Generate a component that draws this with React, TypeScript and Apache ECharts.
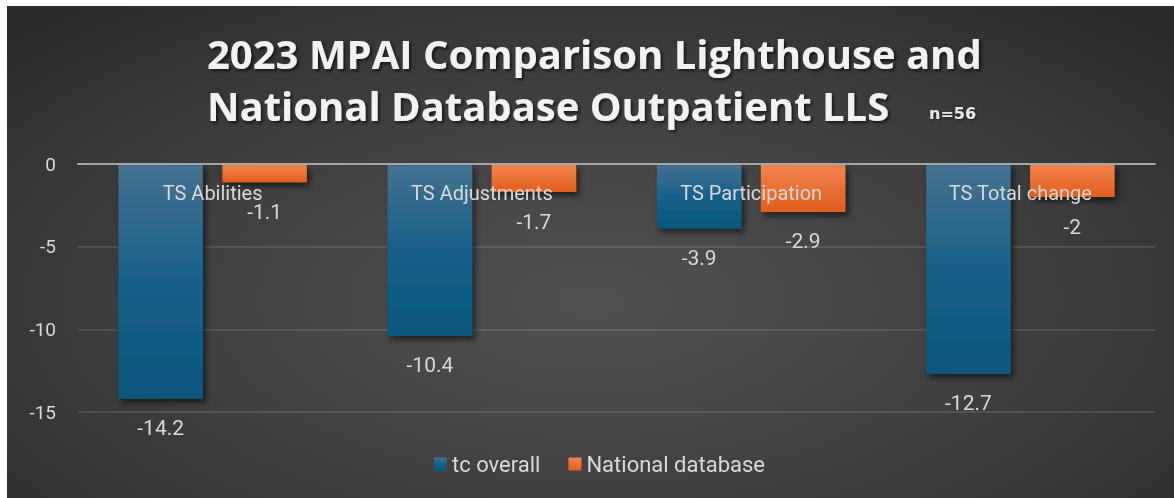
import React, { useEffect, useRef } from "react";
import * as echarts from "echarts";

const categories = ["TS Abilities", "TS Adjustments", "TS Participation", "TS Total change"];
const tcOverall = [-14.2, -10.4, -3.9, -12.7];
const nationalDb = [-1.1, -1.7, -2.9, -2];
const seriesNames = ["tc overall", "National database"];
const titleLines = ["2023 MPAI Comparison Lighthouse and", "National Database Outpatient LLS"];
const sampleNote = "n=56";

const FONT = "Roboto";

export default function App() {
  const ref = useRef<HTMLDivElement>(null);
  useEffect(() => {
    if (!ref.current) return;
    const chart = echarts.init(ref.current, undefined, { renderer: "svg" });
    const blue = new echarts.graphic.LinearGradient(0, 0, 0, 1, [
      { offset: 0, color: "#46718f" },
      { offset: 0.5, color: "#17618a" },
      { offset: 1, color: "#0a577d" },
    ]);
    const orange = new echarts.graphic.LinearGradient(0, 0, 0, 1, [
      { offset: 0, color: "#f0844f" },
      { offset: 1, color: "#e35d1c" },
    ]);
    const labelStyle = {
      show: true,
      position: "outside",
      distance: 19,
      color: "#d9d9d9",
      fontSize: 21,
      fontFamily: FONT,
    };
    const shadow = {
      shadowColor: "rgba(0,0,0,0.55)",
      shadowBlur: 6,
      shadowOffsetX: 3,
      shadowOffsetY: 4,
    };
    chart.setOption({
      animation: false,
      backgroundColor: "transparent",
      title: {
        text: titleLines.join("\n"),
        left: 200,
        top: 21,
        padding: 0,
        textStyle: {
          fontFamily: "Open Sans",
          fontWeight: "bold",
          fontSize: 40,
          lineHeight: 52,
          color: "#f2f2f2",
          textShadowColor: "rgba(0,0,0,0.6)",
          textShadowBlur: 3,
          textShadowOffsetX: 2,
          textShadowOffsetY: 2,
        },
      },
      graphic: [
        {
          type: "text",
          left: 922,
          top: 99,
          style: {
            text: sampleNote,
            fill: "#e6e6e6",
            font: "bold 16px 'DejaVu Sans'",
            textShadowColor: "rgba(0,0,0,0.6)",
            textShadowBlur: 2,
            textShadowOffsetX: 1,
            textShadowOffsetY: 1,
          },
        },
      ],
      legend: {
        data: seriesNames,
        left: 422,
        top: 442,
        icon: "rect",
        itemWidth: 13,
        itemHeight: 13,
        itemGap: 28,
        textStyle: { color: "#d9d9d9", fontSize: 22, fontFamily: FONT },
      },
      grid: { left: 71, right: 19, top: 158, bottom: 86 },
      xAxis: {
        type: "category",
        data: categories,
        position: "top",
        z: 10,
        axisLine: { show: true, lineStyle: { color: "#a6a6a6", width: 2 } },
        axisTick: { show: false },
        axisLabel: { inside: true, margin: 19, color: "#d9d9d9", fontSize: 20, fontFamily: FONT },
      },
      yAxis: {
        type: "value",
        min: -15,
        max: 0,
        interval: 5,
        axisLine: { show: false },
        axisTick: { show: false },
        axisLabel: { color: "#d9d9d9", fontSize: 19, fontFamily: FONT, margin: 22 },
        splitLine: { lineStyle: { color: "rgba(255,255,255,0.14)", width: 1.5 } },
      },
      series: [
        {
          name: seriesNames[0],
          type: "bar",
          data: tcOverall,
          barGap: "23%",
          barCategoryGap: "30%",
          itemStyle: { color: blue, ...shadow },
          label: labelStyle,
        },
        {
          name: seriesNames[1],
          type: "bar",
          data: nationalDb,
          itemStyle: { color: orange, ...shadow },
          label: labelStyle,
        },
      ],
    });
    return () => chart.dispose();
  }, []);
  return (
    <div
      ref={ref}
      style={{
        position: "fixed",
        left: 7,
        top: 6,
        width: 1167,
        height: 492,
        background:
          "radial-gradient(ellipse 75% 85% at 50% 60%, #525252 0%, #3d3d3d 55%, #282828 100%)",
      }}
    />
  );
}
